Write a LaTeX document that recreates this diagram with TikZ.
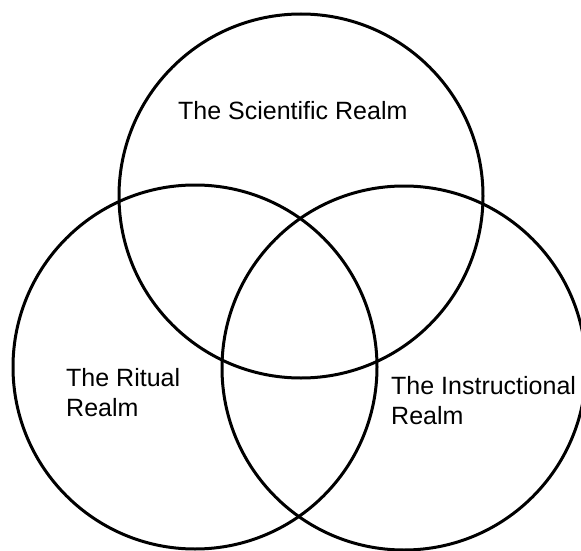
\documentclass[tikz,border=0pt]{standalone}
\usepackage{fontspec}
\setmainfont{Liberation Sans}
\begin{document}
\begin{tikzpicture}[x=1pt,y=-1pt,
  ring/.style={draw=black, line width=3pt, circle, minimum size=364pt, inner sep=0pt},
  lbl/.style={font=\fontsize{25}{29.5}\selectfont, inner sep=0pt, align=left, text=black}]
\useasboundingbox (0,0) rectangle (581,551);
\fill[white] (0,0) rectangle (581,551);
\clip (0,0) rectangle (581,551);
\node[ring] (sci) at (301,196) {};
\node[ring] (rit) at (195,367) {};
\node[ring] (ins) at (404,368) {};
\node[lbl, anchor=base west] (scitext) at (178,119) {The Scientific Realm};
\node[lbl, anchor=base west] (rittext) at (66,416) {The Ritual\\Realm};
\node[lbl, anchor=base west] (instext) at (391,424) {The Instructional\\Realm};
\end{tikzpicture}
\end{document}
